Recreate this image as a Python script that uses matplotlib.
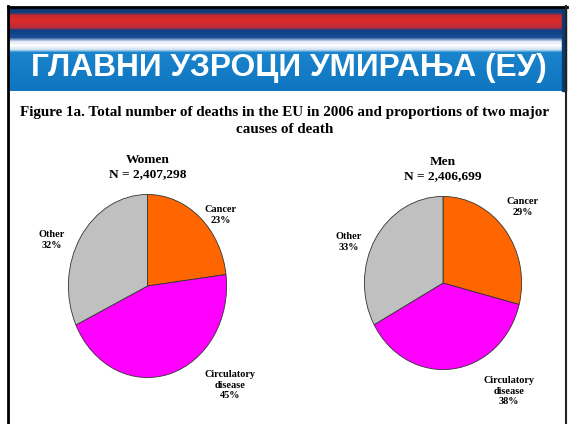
import numpy as np
import matplotlib
matplotlib.use('Agg')
import matplotlib.pyplot as plt
from matplotlib.colors import to_rgb

# data
header = 'ГЛАВНИ УЗРОЦИ УМИРАЊА (ЕУ)'
title = 'Figure 1a. Total number of deaths in the EU in 2006 and proportions of two major\ncauses of death'
causes = ['Cancer', 'Circulatory\ndisease', 'Other']
colors = ['#ff6600', '#ff00ff', '#c0c0c0']
women_n = '2,407,298'
men_n = '2,406,699'
women_pct = [23, 45, 32]
men_pct = [29, 38, 33]

W, H = 569, 424
fig = plt.figure(figsize=(W / 100, H / 100), dpi=100)
fig.patch.set_facecolor('white')

# full-figure axes in pixel coordinates for the slide decoration
bg = fig.add_axes([0, 0, 1, 1])
bg.set_xlim(0, W)
bg.set_ylim(H, 0)
bg.axis('off')

# banner: vertical colour stops (pixel row, colour)
stops = [(7, '#0d2f66'), (12, '#123f80'), (15, '#c8282e'), (21, '#dd2a2a'),
         (27, '#b82a3a'), (30, '#0e3f85'), (37, '#1a4f95'), (41, '#dfe8f4'),
         (45, '#ffffff'), (49, '#cfe2f3'), (52, '#1a84cc'), (90, '#0f75c0')]
rows = np.arange(7, 91)
ys = [s[0] for s in stops]
rgb = np.array([to_rgb(s[1]) for s in stops])
grad = np.stack([np.interp(rows, ys, rgb[:, i]) for i in range(3)], axis=1)
bg.imshow(grad[:, None, :], extent=(9, 565, 91, 7), aspect='auto', zorder=1)
bg.add_patch(plt.Rectangle((562, 7), 4, 84, color='#0a3b70', zorder=2))

# slide frame
bg.plot([8.5, 8.5], [6, H], color='black', lw=2, zorder=3)
bg.plot([8, 567], [6.5, 6.5], color='black', lw=2, zorder=3)
bg.plot([566, 566], [6, H], color='#222222', lw=1.5, zorder=3)

bg.text(289, 68, header, color='white', fontsize=22.8, fontweight='bold',
        family='Liberation Sans', ha='center', va='center', zorder=4)
bg.text(285, 121, title, color='black', fontsize=10.9, fontweight='bold',
        family='Liberation Serif', ha='center', va='center',
        linespacing=1.35, zorder=4)


def draw_pie(box, pct, name, n, label_pos):
    left, top, right, bottom = box
    ax = fig.add_axes([left / W, 1 - bottom / H, (right - left) / W,
                       (bottom - top) / H])
    ax.pie(pct, colors=colors, startangle=90, counterclock=False,
           wedgeprops=dict(edgecolor='#333333', linewidth=0.6))
    ax.set_aspect('auto')
    ax.set_xlim(-1.005, 1.005)
    ax.set_ylim(-1.005, 1.005)
    cx = (left + right) / 2
    bg.text(cx, top - 27, name + '\nN = ' + n, fontsize=9.6, fontweight='bold',
            family='Liberation Serif', ha='center', va='center',
            linespacing=1.15)
    for lab, p, (x, y) in zip(causes, pct, label_pos):
        bg.text(x, y, f'{lab}\n{p}%', fontsize=7.4, fontweight='bold',
                family='Liberation Serif', ha='center', va='center',
                linespacing=1.15)


draw_pie((68, 194, 227, 378), women_pct, 'Women', women_n,
         [(221, 215), (230, 385), (52, 240)])
draw_pie((364, 196, 522, 370), men_pct, 'Men', men_n,
         [(523, 207), (509, 391), (349, 242)])

fig.savefig('out.png', dpi=100)
